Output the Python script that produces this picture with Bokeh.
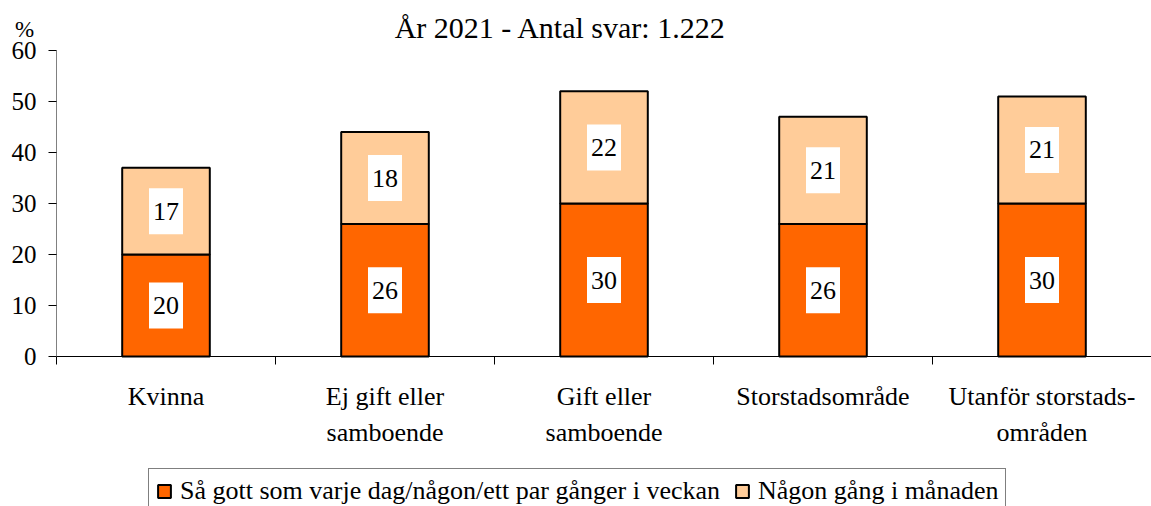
from bokeh.plotting import figure
from bokeh.models import Range1d, FixedTicker, Label, Legend, LegendItem, ColumnDataSource
from bokeh.core.properties import value
from bokeh.embed import file_html
from bokeh.resources import INLINE

categories = ["Kvinna", "Ej gift eller\nsamboende", "Gift eller\nsamboende",
              "Storstadsområde", "Utanför storstads-\nområden"]
weekly = [20, 26, 30, 26, 30]
monthly = [17, 18, 22, 21, 21]
series_names = ["Så gott som varje dag/någon/ett par gånger i veckan", "Någon gång i månaden"]
y_ticks = [0, 10, 20, 30, 40, 50, 60]
title_text = "År 2021 - Antal svar: 1.222"

FONT = "Liberation Serif"
C1 = "#FF6600"
C2 = "#FFCC99"

W, H = 1151, 506
# plot area in pixels (where the axes sit)
AX_L, AX_R, AX_T, AX_B = 56, 1151, 50, 356
n = len(categories)
ppx = (AX_R - AX_L) / n           # px per category
ppy = (AX_B - AX_T) / 60.0        # px per percent
x0 = -0.5 - AX_L / ppx
x1 = n - 0.5 + (W - AX_R) / ppx
y1 = 60 + AX_T / ppy
y0 = -(H - AX_B) / ppy

xs = list(range(n))
top1 = weekly
top2 = [a + b for a, b in zip(weekly, monthly)]
mid1 = [a / 2 for a in weekly]
mid2 = [a + b / 2 for a, b in zip(weekly, monthly)]

src = ColumnDataSource(dict(x=xs, t1=top1, t2=top2, mid1=mid1, mid2=mid2,
                            l1=[str(v) for v in weekly], l2=[str(v) for v in monthly]))

p = figure(width=W, height=H, output_backend="svg", toolbar_location=None,
           x_range=Range1d(x0, x1), y_range=Range1d(y0, y1),
           min_border_left=0, min_border_right=0, min_border_top=0, min_border_bottom=0)
p.outline_line_color = None
p.xgrid.visible = False
p.ygrid.visible = False
p.background_fill_color = "white"
p.border_fill_color = "white"

r1 = p.vbar(x="x", width=0.4, bottom=0, top="t1", source=src, fill_color=C1,
            line_color="black", line_width=2)
r2 = p.vbar(x="x", width=0.4, bottom="t1", top="t2", source=src, fill_color=C2,
            line_color="black", line_width=2)

for ycol, lcol in (("mid1", "l1"), ("mid2", "l2")):
    p.rect(x="x", y=ycol, width=34, height=46, width_units="screen", height_units="screen",
           source=src, fill_color="white", line_color=None)
    p.text(x="x", y=ycol, text=lcol, source=src, text_align="center", text_baseline="middle",
           text_font=value(FONT), text_font_size="26px", text_color="black")

# y axis, drawn at the left edge of the category area
ya = p.yaxis[0]
ya.fixed_location = -0.5
ya.bounds = (0, 60)
ya.ticker = FixedTicker(ticks=y_ticks, minor_ticks=[])
ya.axis_line_color = "#808080"
ya.major_tick_line_color = "black"
ya.major_tick_out = 8
ya.major_tick_in = 0
ya.minor_tick_line_color = None
ya.major_label_text_font = FONT
ya.major_label_text_font_size = "25px"
ya.major_label_text_color = "black"
ya.major_label_standoff = 12

# x axis at y = 0
xa = p.xaxis[0]
xa.fixed_location = 0
xa.bounds = (-0.5, n - 0.5)
xa.ticker = FixedTicker(ticks=xs, minor_ticks=[i - 0.5 for i in range(n + 1)])
xa.major_label_overrides = {i: c for i, c in enumerate(categories)}
xa.axis_line_color = "black"
xa.major_tick_line_color = None
xa.major_tick_out = 0
xa.major_tick_in = 0
xa.minor_tick_line_color = "black"
xa.minor_tick_out = 8
xa.minor_tick_in = 0
xa.major_label_text_font = FONT
xa.major_label_text_font_size = "26px"
xa.major_label_text_color = "black"
xa.major_label_standoff = 17
xa.major_label_text_line_height = 1.27

# title and unit label
p.add_layout(Label(x=-0.5 + (560 - AX_L) / ppx, y=60 + (AX_T - 27) / ppy, text=title_text,
                   text_font=FONT, text_font_size="30px",
                   text_align="center", text_baseline="alphabetic", text_color="black"))
p.add_layout(Label(x=-0.5 + (24 - AX_L) / ppx, y=60 + (AX_T - 29) / ppy, text="%",
                   text_font=FONT, text_font_size="23px",
                   text_align="center", text_baseline="alphabetic", text_color="black"))

legend = Legend(items=[LegendItem(label=series_names[0], renderers=[r1]),
                       LegendItem(label=series_names[1], renderers=[r2])],
                orientation="horizontal", location=(148, -8),
                border_line_color="black", border_line_width=1,
                label_text_font=FONT, label_text_font_size="26px", label_text_color="black",
                glyph_width=16, glyph_height=16, label_standoff=8, spacing=14,
                padding=7, margin=0, background_fill_color="white", background_fill_alpha=1)
p.add_layout(legend, "center")

open("out.html", "w").write(file_html(p, INLINE))
